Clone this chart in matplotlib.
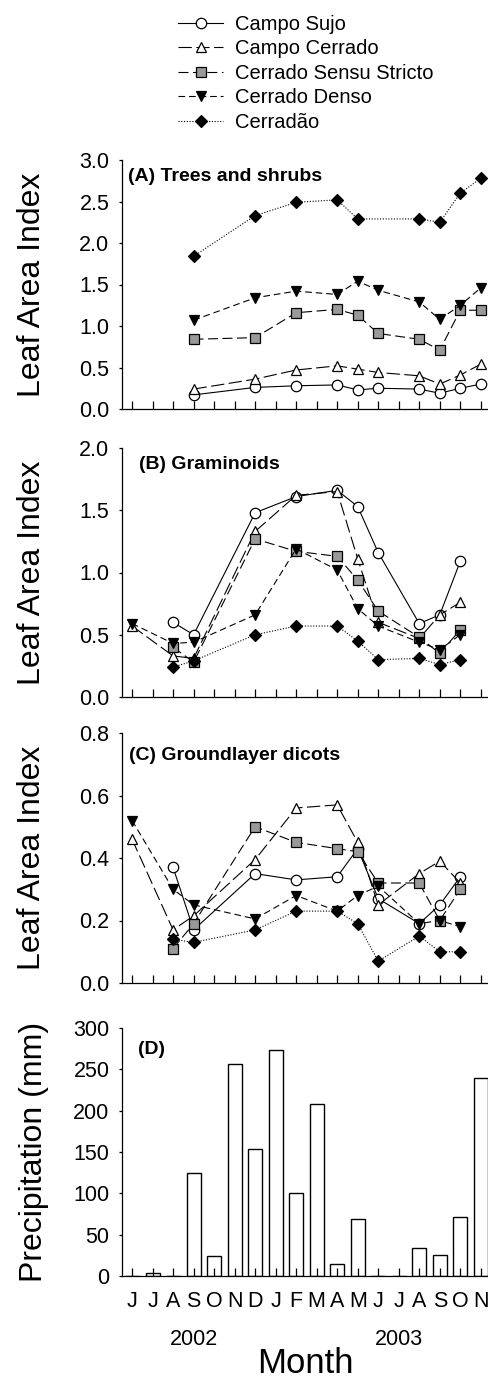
import matplotlib
matplotlib.use("Agg")
import matplotlib.pyplot as plt

plt.rcParams['font.family'] = ['Liberation Sans', 'DejaVu Sans']

months = ['J', 'J', 'A', 'S', 'O', 'N', 'D', 'J', 'F', 'M', 'A', 'M',
          'J', 'J', 'A', 'S', 'O', 'N']
years = ['2002', '2003']
year_pos = [3, 13]

names = ['Campo Sujo', 'Campo Cerrado', 'Cerrado Sensu Stricto',
         'Cerrado Denso', 'Cerrad\u00e3o']

# (A) trees and shrubs
A_idx = [3, 6, 8, 10, 11, 12, 14, 15, 16, 17]
A_idx_cdao = [3, 6, 8, 10, 11, 14, 15, 16, 17]
A_sujo = [0.17, 0.26, 0.28, 0.29, 0.23, 0.25, 0.24, 0.19, 0.25, 0.30]
A_cc = [0.24, 0.36, 0.47, 0.52, 0.48, 0.44, 0.40, 0.30, 0.41, 0.54]
A_ss = [0.84, 0.86, 1.16, 1.20, 1.13, 0.91, 0.84, 0.71, 1.19, 1.19]
A_cd = [1.07, 1.34, 1.42, 1.38, 1.54, 1.43, 1.29, 1.08, 1.25, 1.46]
A_cdao = [1.84, 2.33, 2.49, 2.52, 2.29, 2.29, 2.25, 2.60, 2.78]

# (B) graminoids
B_idx = [2, 3, 6, 8, 10, 11, 12, 14, 15, 16]
B_idx0 = [0, 2, 3, 6, 8, 10, 11, 12, 14, 15, 16]
B_sujo = [0.60, 0.50, 1.48, 1.61, 1.66, 1.53, 1.16, 0.59, 0.66, 1.09]
B_cc = [0.57, 0.33, 0.31, 1.33, 1.62, 1.65, 1.11, 0.60, 0.47, 0.66, 0.76]
B_ss = [0.40, 0.28, 1.27, 1.17, 1.13, 0.94, 0.69, 0.48, 0.35, 0.54]
B_cd = [0.59, 0.43, 0.44, 0.66, 1.19, 1.02, 0.71, 0.57, 0.44, 0.38, 0.50]
B_cdao = [0.24, 0.29, 0.50, 0.57, 0.57, 0.45, 0.30, 0.31, 0.26, 0.30]

# (C) groundlayer dicots
C_sujo = [0.37, 0.17, 0.35, 0.33, 0.34, 0.43, 0.27, 0.19, 0.25, 0.34]
C_cc = [0.46, 0.17, 0.215, 0.395, 0.56, 0.57, 0.45, 0.25, 0.35, 0.39, 0.32]
C_ss = [0.11, 0.19, 0.50, 0.45, 0.43, 0.42, 0.32, 0.32, 0.20, 0.30]
C_cd = [0.52, 0.30, 0.25, 0.205, 0.28, 0.23, 0.28, 0.31, 0.19, 0.20, 0.18]
C_cdao = [0.14, 0.13, 0.17, 0.23, 0.23, 0.19, 0.07, 0.15, 0.10, 0.10]

# (D) precipitation
precip = [0, 4, 0, 124, 24, 256, 154, 273, 100, 208, 15, 69, 0, 0, 34, 26, 71, 239]

styles = [
    dict(marker='o', mfc='white', ls='-'),
    dict(marker='^', mfc='white', ls=(0, (12, 4))),
    dict(marker='s', mfc='#999999', ls=(0, (9, 4))),
    dict(marker='v', mfc='black', ls=(0, (6, 3.5))),
    dict(marker='D', mfc='black', ls=(0, (1, 1.5))),
]
msizes = [7.5, 7.5, 7, 7.5, 6.5]

fig = plt.figure(figsize=(4.89, 13.77), dpi=100)
H = 1377.0
left, width = 122 / 489, 367 / 489
boxes = [(160, 409), (448, 697), (733, 983), (1028, 1276)]
axes = []
for top, bot in boxes:
    axes.append(fig.add_axes([left, 1 - bot / H, width, (bot - top) / H]))


def style_ax(ax):
    ax.spines['top'].set_visible(False)
    ax.spines['right'].set_visible(False)
    ax.spines['left'].set_linewidth(0.9)
    ax.spines['bottom'].set_linewidth(0.9)
    ax.set_xlim(-0.49, 17.4)
    ax.set_xticks(range(len(months)))
    ax.tick_params(axis='x', direction='in', length=5.5, width=0.9, pad=11,
                   labelsize=15.5)
    ax.tick_params(axis='y', direction='out', length=2, width=0.9, pad=7,
                   labelsize=15.5)


def draw(ax, xs_list, ys_list):
    for i, (xs, ys) in enumerate(zip(xs_list, ys_list)):
        st = styles[i]
        ax.plot(xs, ys, color='black', lw=0.8, ls=st['ls'], marker=st['marker'],
                ms=msizes[i], mfc=st['mfc'], mec='black', mew=0.9,
                label=names[i], clip_on=False)


panelA, panelB, panelC, panelD = axes

draw(panelA, [A_idx, A_idx, A_idx, A_idx, A_idx_cdao],
     [A_sujo, A_cc, A_ss, A_cd, A_cdao])
draw(panelB, [B_idx, B_idx0, B_idx, B_idx0, B_idx],
     [B_sujo, B_cc, B_ss, B_cd, B_cdao])
draw(panelC, [B_idx, B_idx0, B_idx, B_idx0, B_idx],
     [C_sujo, C_cc, C_ss, C_cd, C_cdao])

panelD.bar(range(len(months)), precip, width=0.68, color='white',
           edgecolor='black', linewidth=1.0)

for ax in axes:
    style_ax(ax)

panelA.set_ylim(0, 3.0)
panelA.set_yticks([0, 0.5, 1.0, 1.5, 2.0, 2.5, 3.0])
panelB.set_ylim(0, 2.0)
panelB.set_yticks([0, 0.5, 1.0, 1.5, 2.0])
panelC.set_ylim(0, 0.8)
panelC.set_yticks([0, 0.2, 0.4, 0.6, 0.8])
for ax in (panelA, panelB, panelC):
    ax.yaxis.set_major_formatter(matplotlib.ticker.FormatStrFormatter('%.1f'))
    ax.set_xticklabels([])
    ax.set_ylabel('Leaf Area Index', fontsize=23)
    ax.yaxis.set_label_coords(-0.205, 0.5)

panelD.set_ylim(0, 300)
panelD.set_yticks(range(0, 301, 50))
panelD.set_xticklabels(months)
panelD.set_ylabel('Precipitation (mm)', fontsize=23)
panelD.yaxis.set_label_coords(-0.2, 0.5)

for yr, xp in zip(years, year_pos):
    panelD.text(xp, -0.278, yr, transform=panelD.get_xaxis_transform(),
                ha='center', va='baseline', fontsize=15.5)
panelD.set_xlabel('Month', fontsize=25)
panelD.xaxis.set_label_coords(0.5, -0.39)
panelD.xaxis.label.set_verticalalignment('baseline')

panelA.text(0.017, 0.935, '(A) Trees and shrubs', transform=panelA.transAxes,
            fontsize=14, fontweight='bold', va='center')
panelB.text(0.047, 0.935, '(B) Graminoids', transform=panelB.transAxes,
            fontsize=14, fontweight='bold', va='center')
panelC.text(0.019, 0.91, '(C) Groundlayer dicots', transform=panelC.transAxes,
            fontsize=14, fontweight='bold', va='center')
panelD.text(0.044, 0.915, '(D)', transform=panelD.transAxes,
            fontsize=14, fontweight='bold', va='center')

handles, labels = panelA.get_legend_handles_labels()
fig.legend(handles, labels, loc='upper left',
           bbox_to_anchor=(178 / 489, 1 - 15 / H), frameon=False,
           fontsize=14.5, handlelength=2.25, handletextpad=0.6,
           labelspacing=0.27, borderpad=0, borderaxespad=0)

fig.savefig('out.png', dpi=100)
